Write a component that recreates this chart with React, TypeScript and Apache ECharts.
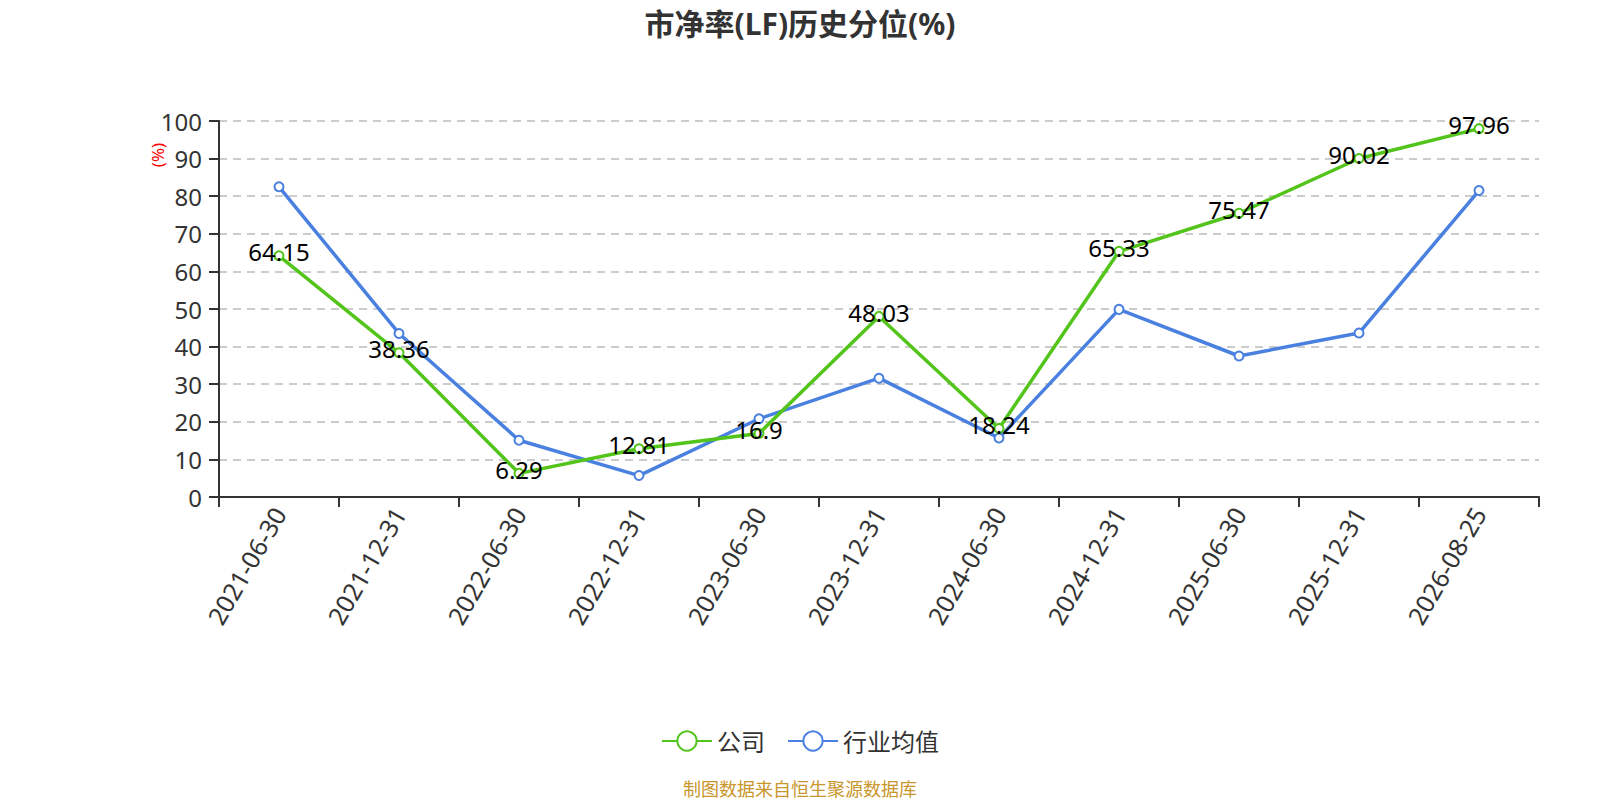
import React, { useEffect, useRef } from "react";
import * as echarts from "echarts";

const categories = [
  "2021-06-30", "2021-12-31", "2022-06-30", "2022-12-31", "2023-06-30", "2023-12-31",
  "2024-06-30", "2024-12-31", "2025-06-30", "2025-12-31", "2026-08-25",
];
const companyValues = [64.15, 38.36, 6.29, 12.81, 16.9, 48.03, 18.24, 65.33, 75.47, 90.02, 97.96];
const industryValues = [82.5, 43.5, 15.1, 5.7, 20.8, 31.6, 15.7, 49.9, 37.5, 43.6, 81.5];
const seriesNames = ["公司", "行业均值"];
const titleText = "市净率(LF)历史分位(%)";
const footerText = "制图数据来自恒生聚源数据库";

const FONT = "'Noto Sans', 'Noto Sans CJK SC', sans-serif";

export default function App() {
  const ref = useRef<HTMLDivElement>(null);
  useEffect(() => {
    document.body.style.margin = "0";
    if (!ref.current) return;
    const chart = echarts.init(ref.current, null, { renderer: "svg" });
    chart.setOption({
      animation: false,
      textStyle: { fontFamily: FONT },
      title: {
        text: titleText,
        left: "center",
        top: 3,
        textStyle: { fontSize: 30, fontWeight: "bold", color: "#333", fontFamily: FONT },
      },
      legend: {
        data: seriesNames,
        top: 724,
        left: "center",
        itemWidth: 50,
        itemHeight: 24,
        itemGap: 22,
        textStyle: { fontSize: 24, color: "#333", fontFamily: FONT },
      },
      grid: { left: 219, right: 61, top: 121, bottom: 303, containLabel: false },
      xAxis: {
        type: "category",
        data: categories,
        boundaryGap: true,
        axisLine: { lineStyle: { color: "#333", width: 2 } },
        axisTick: { show: true, length: 10, lineStyle: { color: "#333", width: 2 } },
        axisLabel: { rotate: 60, fontSize: 25, color: "#333", margin: 12, fontFamily: FONT },
      },
      yAxis: {
        type: "value",
        min: 0,
        max: 100,
        interval: 10,
        axisLine: { show: true, lineStyle: { color: "#333", width: 2 } },
        axisTick: { show: true, length: 10, lineStyle: { color: "#333", width: 2 } },
        axisLabel: { fontSize: 24, color: "#333", margin: 17, fontFamily: FONT },
        splitLine: { show: true, lineStyle: { type: [8, 6], color: "#ccc", width: 2 } },
      },
      graphic: [
        {
          type: "text",
          x: 157,
          y: 155,
          rotation: Math.PI / 2,
          style: {
            text: "(%)",
            fill: "#ff0000",
            fontSize: 17,
            fontFamily: FONT,
            textAlign: "center",
            textVerticalAlign: "middle",
          },
        },
        {
          type: "text",
          x: 800,
          y: 789,
          style: {
            text: footerText,
            fill: "#c9962b",
            fontSize: 18,
            fontFamily: FONT,
            textAlign: "center",
            textVerticalAlign: "middle",
          },
        },
      ],
      series: [
        {
          name: seriesNames[0],
          type: "line",
          data: companyValues,
          symbol: "emptyCircle",
          symbolSize: 9,
          itemStyle: { color: "#52c41a", borderWidth: 2 },
          lineStyle: { width: 3.5, color: "#52c41a" },
          label: {
            show: true,
            position: "inside",
            offset: [0, -4],
            fontSize: 24,
            color: "#000",
            fontFamily: FONT,
          },
          z: 3,
        },
        {
          name: seriesNames[1],
          type: "line",
          data: industryValues,
          symbol: "emptyCircle",
          symbolSize: 9,
          itemStyle: { color: "#4a80e0", borderWidth: 2 },
          lineStyle: { width: 3.5, color: "#4a80e0" },
          label: { show: false },
          z: 2,
        },
      ],
    });
    return () => chart.dispose();
  }, []);
  return <div ref={ref} style={{ width: 1600, height: 800 }} />;
}
